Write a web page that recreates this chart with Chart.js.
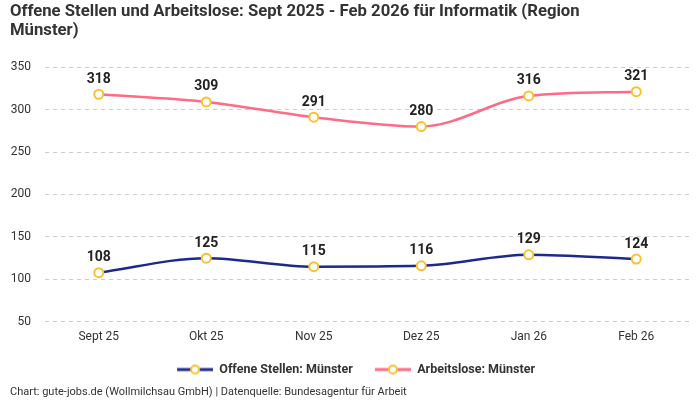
<!DOCTYPE html>
<html>
<head>
<meta charset="utf-8">
<script src="https://cdn.jsdelivr.net/npm/chart.js@4.4.1/dist/chart.umd.min.js"></script>
<style>
  html, body { margin: 0; padding: 0; background: #fff; }
  #wrap { width: 700px; height: 400px; position: relative; }
</style>
</head>
<body>
<div id="wrap"><canvas id="chart"></canvas></div>
<script>
// ========== DATA ==========
const months = ['Sept 25', 'Okt 25', 'Nov 25', 'Dez 25', 'Jan 26', 'Feb 26'];
const offeneStellen = [108, 125, 115, 116, 129, 124];
const arbeitslose = [318, 309, 291, 280, 316, 321];
const seriesNames = ['Offene Stellen: Münster', 'Arbeitslose: Münster'];
const seriesColors = ['#1c2a8c', '#ff6b84'];
const yTicks = [50, 100, 150, 200, 250, 300, 350];

const pointColor = '#fbc02d';
const fontFamily = 'Roboto, "Noto Sans", sans-serif';

// legend symbol: line with a ring in the middle (left 12px kept empty as spacing)
function legendSymbol(color) {
    const c = document.createElement('canvas');
    c.width = 48;
    c.height = 12;
    const g = c.getContext('2d');
    g.strokeStyle = color;
    g.lineWidth = 3;
    g.beginPath();
    g.moveTo(12, 6);
    g.lineTo(48, 6);
    g.stroke();
    g.beginPath();
    g.arc(30, 6, 4, 0, Math.PI * 2);
    g.fillStyle = '#fff';
    g.fill();
    g.strokeStyle = pointColor;
    g.lineWidth = 2;
    g.stroke();
    return c;
}

// simple value labels above each point
const valueLabels = {
    id: 'valueLabels',
    afterDatasetsDraw(chart) {
        const ctx = chart.ctx;
        ctx.save();
        ctx.font = 'bold 14px ' + fontFamily;
        ctx.fillStyle = '#222';
        ctx.textAlign = 'center';
        ctx.textBaseline = 'bottom';
        chart.data.datasets.forEach((ds, i) => {
            chart.getDatasetMeta(i).data.forEach((pt, j) => {
                ctx.fillText(ds.data[j], pt.x, pt.y - 8);
            });
        });
        ctx.restore();
    }
};

const lineStyle = {
    borderWidth: 2.5,
    cubicInterpolationMode: 'monotone',
    pointRadius: 4.5,
    pointHoverRadius: 4.5,
    pointBorderWidth: 2,
    pointBackgroundColor: '#fff',
    pointBorderColor: pointColor,
    fill: false
};

new Chart(document.getElementById('chart'), {
    type: 'line',
    data: {
        labels: months,
        datasets: [
            Object.assign({ label: seriesNames[0], data: offeneStellen, borderColor: seriesColors[0], backgroundColor: seriesColors[0] }, lineStyle),
            Object.assign({ label: seriesNames[1], data: arbeitslose, borderColor: seriesColors[1], backgroundColor: seriesColors[1] }, lineStyle)
        ]
    },
    options: {
        responsive: true,
        maintainAspectRatio: false,
        animation: false,
        layout: { padding: { left: 10, right: 10, top: 0, bottom: 0 } },
        scales: {
            x: {
                offset: true,
                grid: { display: false, drawTicks: false },
                border: { display: false },
                ticks: { color: '#333', font: { size: 12, family: fontFamily }, padding: 8 },
                afterFit: axis => { axis.height += 1; }
            },
            y: {
                min: 50,
                max: 350,
                afterBuildTicks: axis => { axis.ticks = yTicks.map(v => ({ value: v })); },
                afterFit: axis => { axis.width = 35; },
                grid: { color: '#cccccc', drawTicks: false },
                border: { display: false, dash: [4, 4] },
                ticks: { color: '#333', font: { size: 12, family: fontFamily }, padding: 14 }
            }
        },
        plugins: {
            title: {
                display: true,
                align: 'start',
                text: ['Offene Stellen und Arbeitslose: Sept 2025 - Feb 2026 für Informatik (Region', 'Münster)'],
                color: '#333',
                font: { size: 16.7, weight: 'bold', family: fontFamily, lineHeight: 1.17 },
                padding: { top: 2, bottom: 26 }
            },
            subtitle: {
                display: true,
                position: 'bottom',
                align: 'start',
                text: 'Chart: gute-jobs.de (Wollmilchsau GmbH) | Datenquelle: Bundesagentur für Arbeit',
                color: '#333',
                font: { size: 11, family: fontFamily },
                padding: { top: 0, bottom: 1 }
            },
            legend: {
                position: 'bottom',
                labels: {
                    usePointStyle: true,
                    pointStyleWidth: 48,
                    padding: 10,
                    color: '#333',
                    font: { size: 12.5, weight: 'bold', family: fontFamily },
                    generateLabels(chart) {
                        const items = Chart.defaults.plugins.legend.labels.generateLabels(chart);
                        items.forEach((it, i) => { it.pointStyle = legendSymbol(seriesColors[i]); });
                        return items;
                    }
                }
            },
            tooltip: { enabled: false }
        }
    },
    plugins: [valueLabels]
});
</script>
</body>
</html>
